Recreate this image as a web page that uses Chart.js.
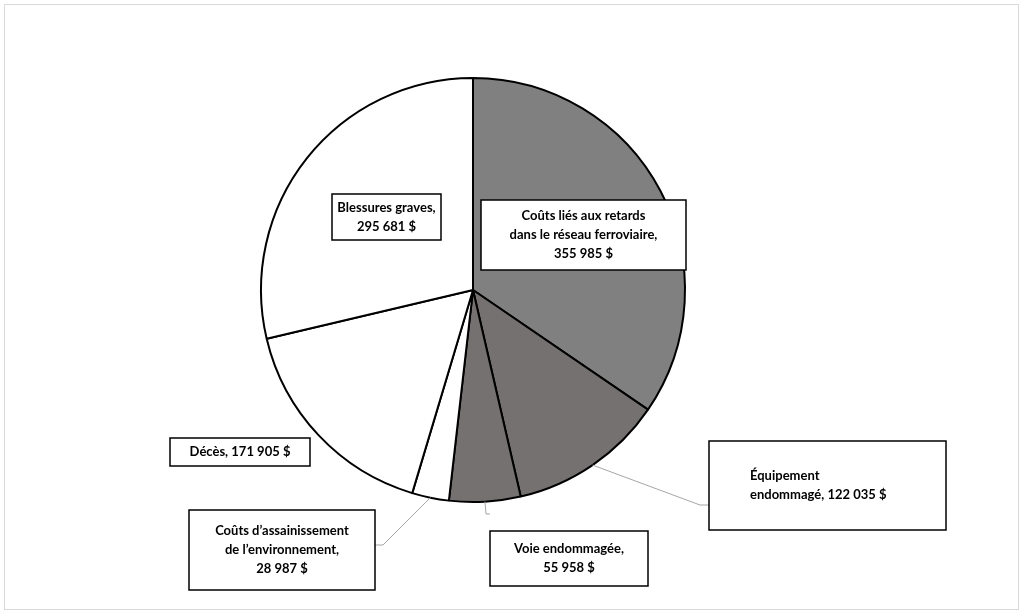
<!DOCTYPE html>
<html><head><meta charset="utf-8">
<script src="https://cdn.jsdelivr.net/npm/chart.js@4"></script>
<style>html,body{margin:0;padding:0;background:#fff}#wrap{position:absolute;left:0;top:0;width:1025px;height:616px}
#frame{position:absolute;left:4px;top:4px;width:1015px;height:606px;border:1px solid #d9d9d9;box-sizing:border-box}</style>
</head><body>
<div id="frame"></div>
<div id="wrap"><canvas id="c" width="1025" height="616"></canvas></div>
<script>
const categories = ["Coûts liés aux retards dans le réseau ferroviaire","Équipement endommagé","Voie endommagée","Coûts d’assainissement de l’environnement","Décès","Blessures graves"];
const values = [355985,122035,55958,28987,171905,295681];
const labelLines = [
  ["Coûts liés aux retards","dans le réseau ferroviaire,","355 985 $"],
  ["Équipement","endommagé, 122 035 $"],
  ["Voie endommagée,","55 958 $"],
  ["Coûts d’assainissement","de l’environnement,","28 987 $"],
  ["Décès, 171 905 $"],
  ["Blessures graves,","295 681 $"]
];
const colors = ["#808080","#767171","#767171","#ffffff","#ffffff","#ffffff"];
// label box layout: [x, y, w, h, textX (center or left), align, leader elbow]
const boxes = [
  {x:481,y:200,w:205,h:70,align:"center",leader:null},
  {x:709,y:441,w:237,h:89,align:"left",tx:750,leader:[[700,505],[709,505]]},
  {x:490,y:531,w:158,h:55,align:"center",leader:[[486,514],[490,514]]},
  {x:189,y:510,w:186,h:80,align:"center",leader:[[383,545],[375,545]]},
  {x:170,y:438,w:140,h:28,align:"center",leader:null},
  {x:332,y:194,w:109,h:46,align:"center",leader:null}
];
const labelPlugin = {
  id:"boxes",
  afterDatasetsDraw(chart){
    const ctx = chart.ctx;
    const arcs = chart.getDatasetMeta(0).data;
    ctx.save();
    arcs.forEach((a,i)=>{
      const b = boxes[i];
      if(b.leader){
        const mid = (a.startAngle+a.endAngle)/2;
        const sx = a.x + Math.cos(mid)*a.outerRadius, sy = a.y + Math.sin(mid)*a.outerRadius;
        ctx.strokeStyle="#a6a6a6"; ctx.lineWidth=1;
        ctx.beginPath(); ctx.moveTo(sx,sy);
        b.leader.forEach(p=>ctx.lineTo(p[0],p[1])); ctx.stroke();
      }
      ctx.fillStyle="#fff"; ctx.fillRect(b.x,b.y,b.w,b.h);
      ctx.strokeStyle="#000"; ctx.lineWidth=1.5; ctx.strokeRect(b.x,b.y,b.w,b.h);
      ctx.fillStyle="#000"; ctx.font="bold 13px Lato"; ctx.textBaseline="middle";
      const lines = labelLines[i], lh=19;
      const y0 = b.y + b.h/2 - (lines.length-1)*lh/2;
      lines.forEach((t,k)=>{
        if(b.align==="left"){ctx.textAlign="left"; ctx.fillText(t,b.tx,y0+k*lh);}
        else {ctx.textAlign="center"; ctx.fillText(t,b.x+b.w/2,y0+k*lh);}
      });
    });
    ctx.restore();
  }
};
new Chart(document.getElementById("c"),{
  type:"pie",
  data:{labels:categories,datasets:[{data:values,backgroundColor:colors,borderColor:"#000",borderWidth:2}]},
  options:{responsive:false,animation:false,
    layout:{padding:{left:260,top:77,right:339,bottom:113}},
    plugins:{legend:{display:false},tooltip:{enabled:false}}},
  plugins:[labelPlugin]
});
</script>
</body></html>
